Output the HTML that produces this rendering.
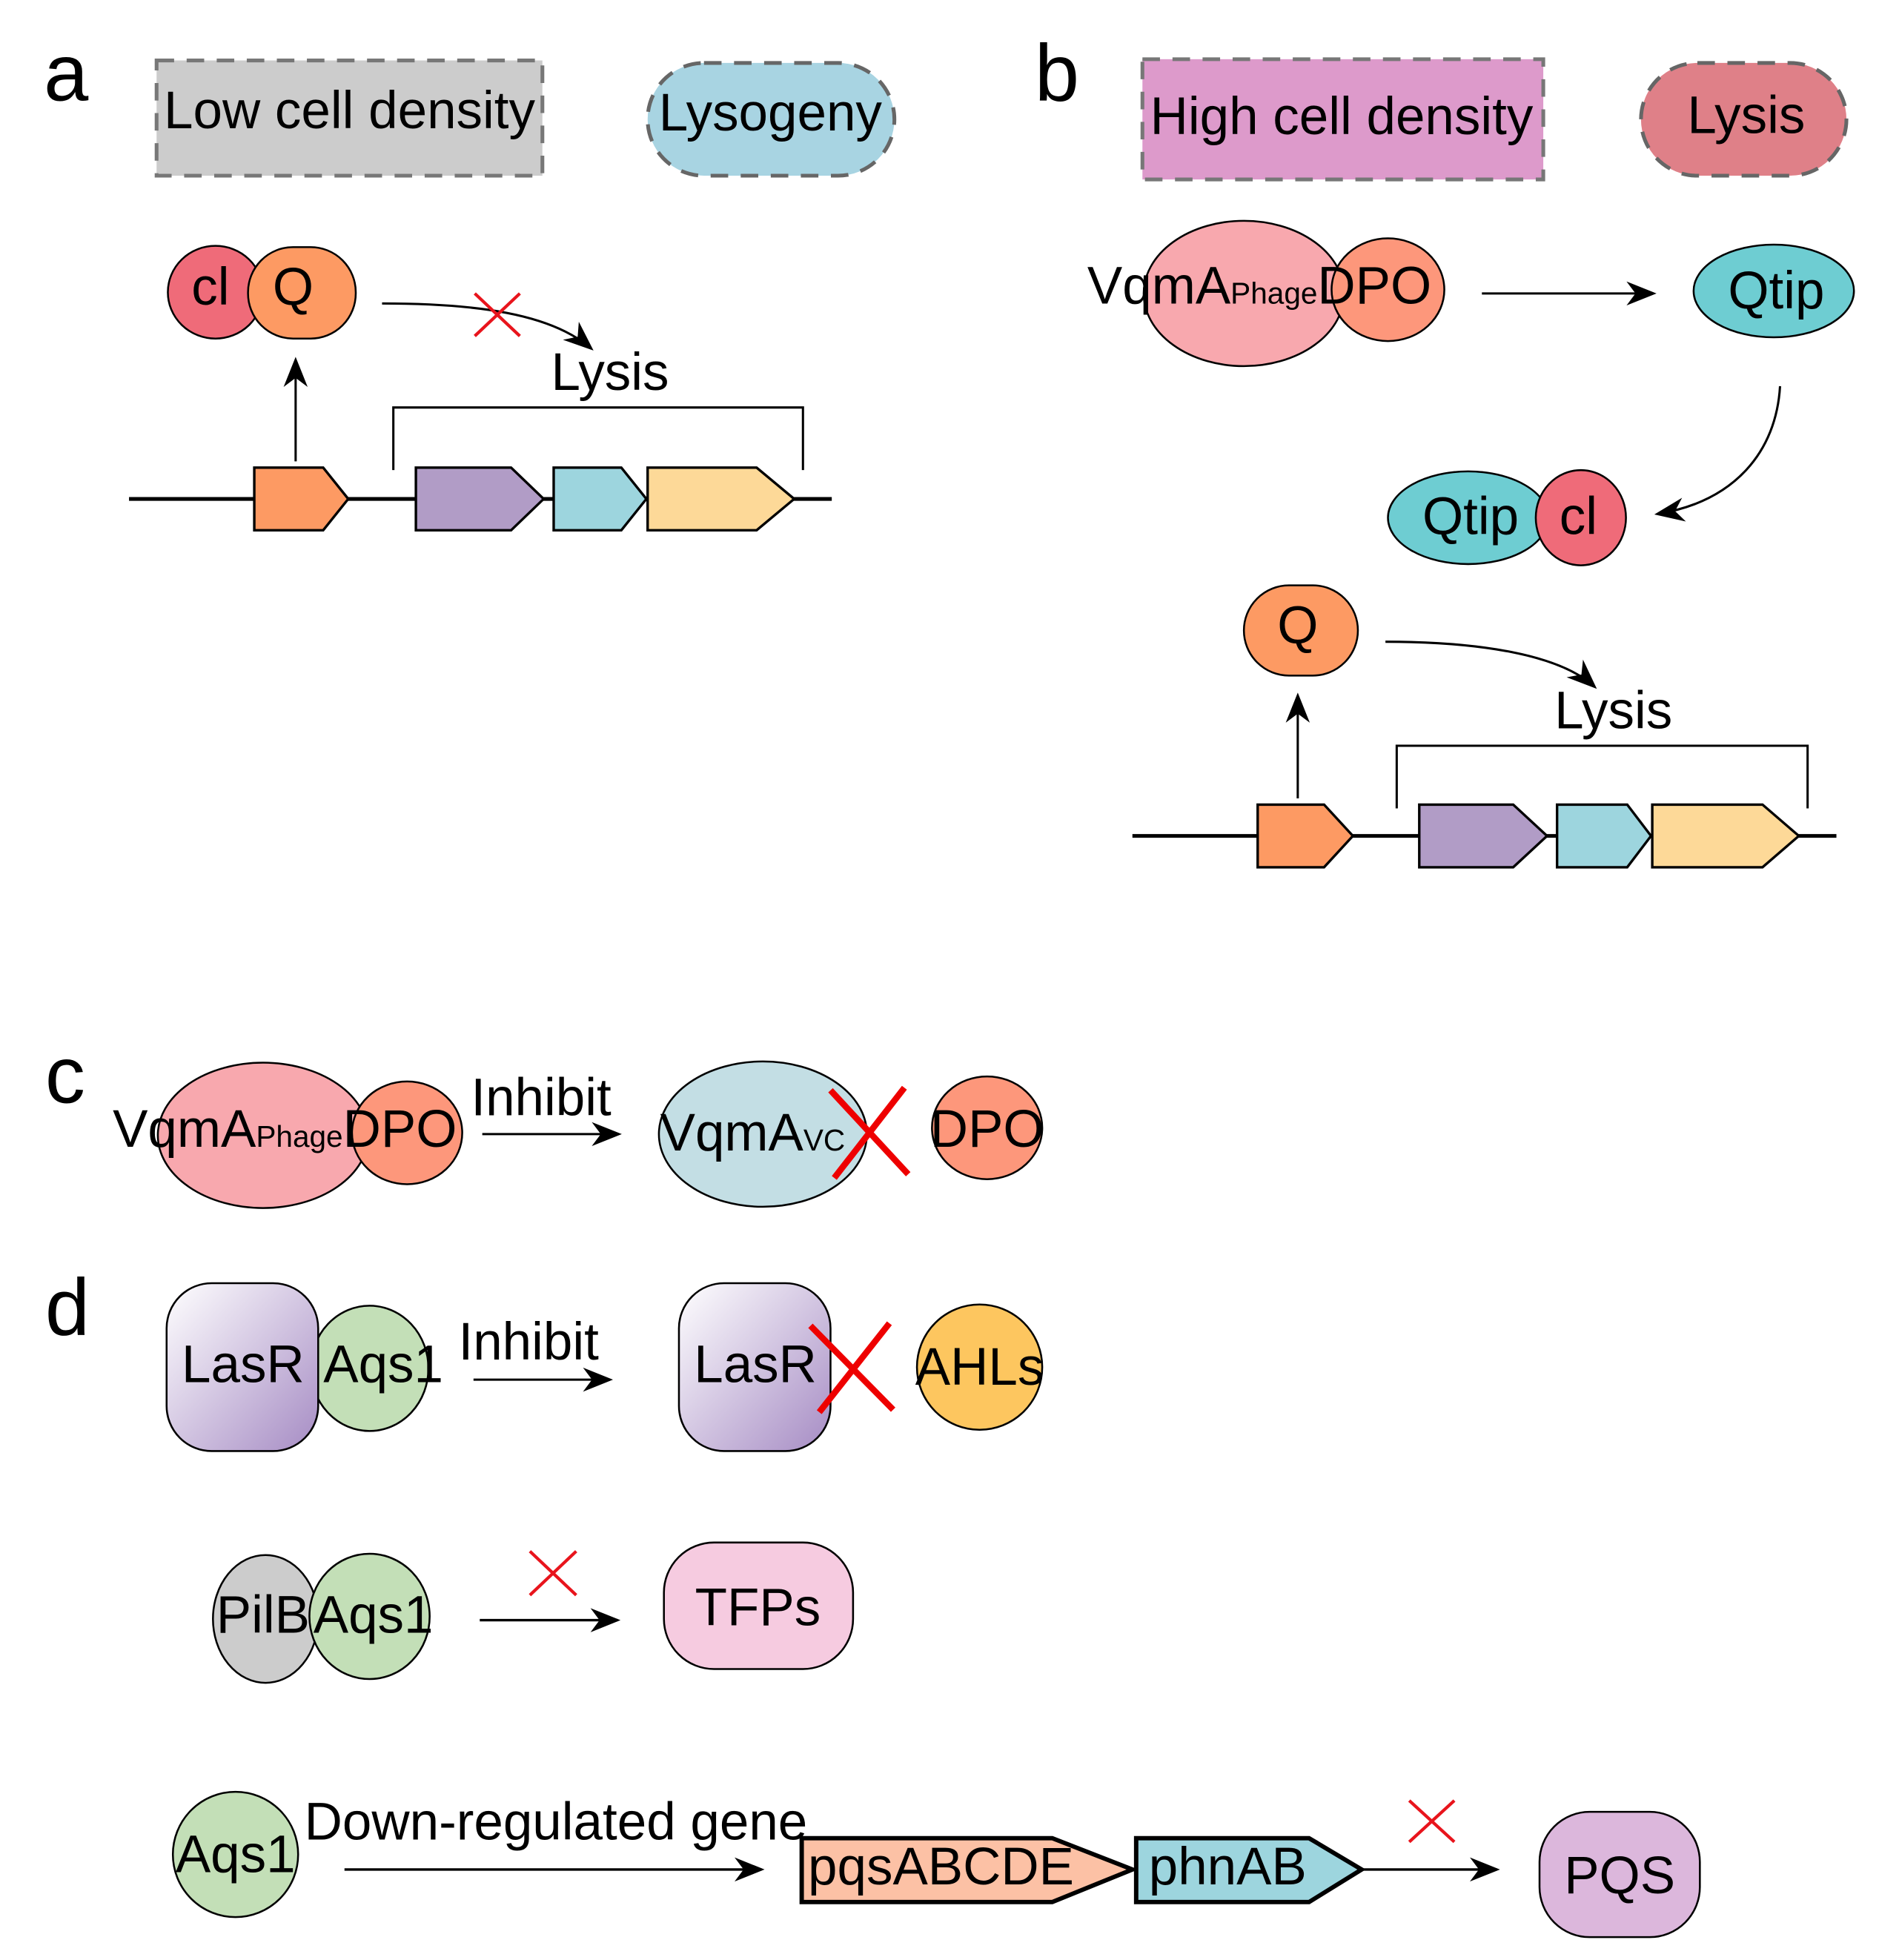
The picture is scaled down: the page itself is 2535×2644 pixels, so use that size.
<!DOCTYPE html>
<html><head><meta charset="utf-8"><style>
html,body{margin:0;padding:0;background:#fff;}
svg{display:block;}
text{font-family:"Liberation Sans",sans-serif;fill:#000;}
</style></head><body>
<svg width="2535" height="2644" viewBox="0 0 1500 1564" xmlns="http://www.w3.org/2000/svg">
<defs>
<marker id="ah2" viewBox="0 0 10 10" refX="9" refY="5" markerWidth="24" markerHeight="24" orient="auto" markerUnits="userSpaceOnUse"><path d="M0,1 L10,5 L0,9 L3,5 Z" fill="#000"/></marker>
<linearGradient id="lg" x1="0" y1="0" x2="1" y2="1"><stop offset="0" stop-color="#ffffff"/><stop offset="1" stop-color="#a68cc4"/></linearGradient>
</defs>

<!-- Panel a -->
<text x="35" y="80" font-size="64">a</text>
<rect x="125" y="48" width="308" height="92" fill="#cccccc" stroke="#777" stroke-width="3" stroke-dasharray="14,10"/>
<text x="279" y="102" font-size="42" text-anchor="middle">Low cell density</text>
<rect x="517" y="50" width="197" height="90" rx="45" fill="#a8d4e2" stroke="#666" stroke-width="3" stroke-dasharray="14,10"/>
<text x="615" y="104" font-size="42" text-anchor="middle">Lysogeny</text>

<ellipse cx="172" cy="233" rx="38" ry="37" fill="#ef6b79" stroke="#000" stroke-width="1.5"/>
<rect x="198" y="197" width="86" height="73" rx="36" fill="#fd9a63" stroke="#000" stroke-width="1.5"/>
<text x="168" y="243" font-size="42" text-anchor="middle">cl</text>
<text x="234" y="243" font-size="42" text-anchor="middle">Q</text>
<line x1="236" y1="368" x2="236" y2="287" stroke="#000" stroke-width="1.8" marker-end="url(#ah2)"/>
<path d="M305,242 C380,242 440,250 472,278" fill="none" stroke="#000" stroke-width="1.8" marker-end="url(#ah2)"/>
<line x1="379" y1="234" x2="415" y2="268" stroke="#e8141c" stroke-width="2.5"/>
<line x1="415" y1="234" x2="379" y2="268" stroke="#e8141c" stroke-width="2.5"/>
<text x="487" y="311" font-size="42" text-anchor="middle">Lysis</text>
<polyline points="314,375 314,325 641,325 641,375" fill="none" stroke="#000" stroke-width="1.8"/>
<line x1="103" y1="398" x2="664" y2="398" stroke="#000" stroke-width="3"/>
<path d="M203,373 H258 L278,398 L258,423 H203 Z" fill="#fd9a63" stroke="#000" stroke-width="2"/>
<path d="M332,373 H408 L434,398 L408,423 H332 Z" fill="#b19cc6" stroke="#000" stroke-width="2"/>
<path d="M442,373 H496 L516,398 L496,423 H442 Z" fill="#9dd5de" stroke="#000" stroke-width="2"/>
<path d="M517,373 H604 L634,398 L604,423 H517 Z" fill="#fdd998" stroke="#000" stroke-width="2"/>

<!-- Panel b -->
<text x="826" y="80" font-size="64">b</text>
<rect x="912" y="47" width="320" height="96" fill="#dd9acb" stroke="#777" stroke-width="3" stroke-dasharray="14,10"/>
<text x="1071" y="107" font-size="42" text-anchor="middle">High cell density</text>
<rect x="1310" y="50" width="164" height="90" rx="45" fill="#df8088" stroke="#666" stroke-width="3" stroke-dasharray="14,10"/>
<text x="1394" y="106" font-size="42" text-anchor="middle">Lysis</text>

<ellipse cx="993" cy="234" rx="80" ry="58" fill="#f8a8ae" stroke="#000" stroke-width="1.5"/>
<ellipse cx="1108" cy="231" rx="45" ry="41" fill="#fd977b" stroke="#000" stroke-width="1.5"/>
<text x="868" y="242" font-size="42">VqmA<tspan font-size="24">Phage</tspan><tspan font-size="42">DPO</tspan></text>
<line x1="1183" y1="234" x2="1320" y2="234" stroke="#000" stroke-width="1.8" marker-end="url(#ah2)"/>
<ellipse cx="1416" cy="232" rx="64" ry="37" fill="#6ecdd2" stroke="#000" stroke-width="1.5"/>
<text x="1418" y="246" font-size="42" text-anchor="middle">Qtip</text>
<path d="M1421,308 C1418,360 1385,400 1323,410" fill="none" stroke="#000" stroke-width="1.8" marker-end="url(#ah2)"/>
<ellipse cx="1172" cy="413" rx="64" ry="37" fill="#6ecdd2" stroke="#000" stroke-width="1.5"/>
<ellipse cx="1262" cy="413" rx="36" ry="38" fill="#ef6b79" stroke="#000" stroke-width="1.5"/>
<text x="1174" y="426" font-size="42" text-anchor="middle">Qtip</text>
<text x="1260" y="426" font-size="42" text-anchor="middle">cl</text>
<rect x="993" y="467" width="91" height="72" rx="36" fill="#fd9a63" stroke="#000" stroke-width="1.5"/>
<text x="1036" y="513" font-size="42" text-anchor="middle">Q</text>
<line x1="1036" y1="637" x2="1036" y2="555" stroke="#000" stroke-width="1.8" marker-end="url(#ah2)"/>
<path d="M1106,512 C1180,512 1245,522 1273,548" fill="none" stroke="#000" stroke-width="1.8" marker-end="url(#ah2)"/>
<text x="1288" y="581" font-size="42" text-anchor="middle">Lysis</text>
<polyline points="1115,645 1115,595 1443,595 1443,645" fill="none" stroke="#000" stroke-width="1.8"/>
<line x1="904" y1="667" x2="1466" y2="667" stroke="#000" stroke-width="3"/>
<path d="M1004,642 H1057 L1080,667 L1057,692 H1004 Z" fill="#fd9a63" stroke="#000" stroke-width="2"/>
<path d="M1133,642 H1208 L1235,667 L1208,692 H1133 Z" fill="#b19cc6" stroke="#000" stroke-width="2"/>
<path d="M1243,642 H1299 L1318,667 L1299,692 H1243 Z" fill="#9dd5de" stroke="#000" stroke-width="2"/>
<path d="M1319,642 H1407 L1436,667 L1407,692 H1319 Z" fill="#fdd998" stroke="#000" stroke-width="2"/>

<!-- Panel c -->
<text x="36" y="880" font-size="64">c</text>
<ellipse cx="210" cy="906" rx="84" ry="58" fill="#f8a8ae" stroke="#000" stroke-width="1.5"/>
<ellipse cx="325" cy="904" rx="44" ry="41" fill="#fd977b" stroke="#000" stroke-width="1.5"/>
<text x="90" y="915" font-size="42">VqmA<tspan font-size="24">Phage</tspan><tspan font-size="42">DPO</tspan></text>
<text x="432" y="890" font-size="42" text-anchor="middle">Inhibit</text>
<line x1="385" y1="905" x2="494" y2="905" stroke="#000" stroke-width="1.8" marker-end="url(#ah2)"/>
<ellipse cx="609" cy="905" rx="83" ry="58" fill="#c3dee4" stroke="#000" stroke-width="1.5"/>
<text x="527" y="918" font-size="42">VqmA<tspan font-size="24">VC</tspan></text>
<line x1="663" y1="870" x2="725" y2="937" stroke="#e00" stroke-width="5"/>
<line x1="722" y1="868" x2="666" y2="940" stroke="#e00" stroke-width="5"/>
<ellipse cx="788" cy="900" rx="44" ry="41" fill="#fd977b" stroke="#000" stroke-width="1.5"/>
<text x="788" y="915" font-size="42" text-anchor="middle">DPO</text>

<!-- Panel d -->
<text x="36" y="1065" font-size="64">d</text>
<ellipse cx="295" cy="1092" rx="47" ry="50" fill="#c3dfb7" stroke="#000" stroke-width="1.5"/>
<rect x="133" y="1024" width="121" height="134" rx="36" fill="url(#lg)" stroke="#000" stroke-width="1.5"/>
<text x="194" y="1103" font-size="42" text-anchor="middle">LasR</text>
<text x="306" y="1103" font-size="42" text-anchor="middle">Aqs1</text>
<text x="422" y="1085" font-size="42" text-anchor="middle">Inhibit</text>
<line x1="378" y1="1101" x2="487" y2="1101" stroke="#000" stroke-width="1.8" marker-end="url(#ah2)"/>
<rect x="542" y="1024" width="121" height="134" rx="36" fill="url(#lg)" stroke="#000" stroke-width="1.5"/>
<text x="603" y="1103" font-size="42" text-anchor="middle">LasR</text>
<line x1="647" y1="1058" x2="713" y2="1125" stroke="#e00" stroke-width="5"/>
<line x1="710" y1="1056" x2="654" y2="1127" stroke="#e00" stroke-width="5"/>
<ellipse cx="782" cy="1091" rx="50" ry="50" fill="#fdc65f" stroke="#000" stroke-width="1.5"/>
<text x="782" y="1105" font-size="42" text-anchor="middle">AHLs</text>

<ellipse cx="212" cy="1292" rx="42" ry="51" fill="#cccccc" stroke="#000" stroke-width="1.5"/>
<ellipse cx="295" cy="1290" rx="48" ry="50" fill="#c3dfb7" stroke="#000" stroke-width="1.5"/>
<text x="210" y="1303" font-size="42" text-anchor="middle">PilB</text>
<text x="298" y="1303" font-size="42" text-anchor="middle">Aqs1</text>
<line x1="423" y1="1238" x2="460" y2="1273" stroke="#e8141c" stroke-width="2.5"/>
<line x1="460" y1="1238" x2="423" y2="1273" stroke="#e8141c" stroke-width="2.5"/>
<line x1="383" y1="1293" x2="493" y2="1293" stroke="#000" stroke-width="2" marker-end="url(#ah2)"/>
<rect x="530" y="1231" width="151" height="101" rx="40" fill="#f6cbe0" stroke="#000" stroke-width="1.5"/>
<text x="605" y="1297" font-size="42" text-anchor="middle">TFPs</text>

<ellipse cx="188" cy="1480" rx="50" ry="50" fill="#c3dfb7" stroke="#000" stroke-width="1.5"/>
<text x="188" y="1494" font-size="42" text-anchor="middle">Aqs1</text>
<text x="243" y="1468" font-size="42">Down-regulated gene</text>
<line x1="275" y1="1492" x2="608" y2="1492" stroke="#000" stroke-width="2" marker-end="url(#ah2)"/>
<path d="M640,1467 H840 L904,1492 L840,1518 H640 Z" fill="#fcc1a5" stroke="#000" stroke-width="3.5"/>
<text x="645" y="1504" font-size="42">pqsABCDE</text>
<path d="M907,1467 H1045 L1087,1492 L1045,1518 H907 Z" fill="#9dd5de" stroke="#000" stroke-width="3.5"/>
<text x="917" y="1504" font-size="42">phnAB</text>
<line x1="1087" y1="1492" x2="1195" y2="1492" stroke="#000" stroke-width="2" marker-end="url(#ah2)"/>
<line x1="1125" y1="1437" x2="1161" y2="1470" stroke="#e8141c" stroke-width="2.5"/>
<line x1="1161" y1="1437" x2="1125" y2="1470" stroke="#e8141c" stroke-width="2.5"/>
<rect x="1229" y="1446" width="128" height="100" rx="40" fill="#dcb7dc" stroke="#000" stroke-width="1.5"/>
<text x="1293" y="1511" font-size="42" text-anchor="middle">PQS</text>
</svg>
</body></html>
